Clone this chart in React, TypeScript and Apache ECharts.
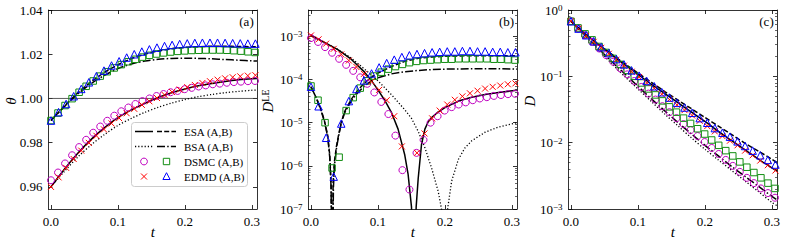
import React, { useEffect, useRef } from 'react';
import * as echarts from 'echarts';

// ---------- time grids ----------
const tEdmd = [0, 0.0113, 0.0226, 0.0339, 0.0452, 0.0565, 0.0678, 0.0791, 0.0904, 0.1017, 0.113, 0.1243, 0.1356, 0.1469, 0.1582, 0.1695, 0.1808, 0.1921, 0.2034, 0.2147, 0.226, 0.2373, 0.2486, 0.2599, 0.2712, 0.2825, 0.2938, 0.3051];
const tDsmc = [0, 0.0105, 0.021, 0.0315, 0.042, 0.0525, 0.063, 0.0735, 0.084, 0.0945, 0.105, 0.1155, 0.126, 0.1365, 0.147, 0.1575, 0.168, 0.1785, 0.189, 0.1995, 0.21, 0.2205, 0.231, 0.2415, 0.252, 0.2625, 0.273, 0.2835, 0.294, 0.3045];
const tLine = [0, 0.02, 0.04, 0.06, 0.08, 0.1, 0.12, 0.14, 0.16, 0.18, 0.2, 0.22, 0.24, 0.26, 0.28, 0.3, 0.3075];

// ---------- panel (a): theta ----------
const thetaEsaA = [0.96, 0.968, 0.9752, 0.9815, 0.9868, 0.9913, 0.9948, 0.9978, 1.0004, 1.0026, 1.0043, 1.0057, 1.0068, 1.0077, 1.0084, 1.0089, 1.009];
const thetaEsaB = [0.99, 0.9965, 1.0025, 1.0075, 1.0118, 1.0152, 1.018, 1.02, 1.0215, 1.0225, 1.0231, 1.0234, 1.0236, 1.0236, 1.0235, 1.0234, 1.0233];
const thetaBsaA = [0.96, 0.967, 0.9735, 0.979, 0.9837, 0.9878, 0.991, 0.9937, 0.996, 0.9979, 0.9995, 1.0008, 1.0018, 1.0026, 1.0032, 1.0037, 1.0038];
const thetaBsaB = [0.99, 0.9963, 1.002, 1.0067, 1.0105, 1.0135, 1.0156, 1.0169, 1.0177, 1.0181, 1.0182, 1.0181, 1.0179, 1.0176, 1.0173, 1.017, 1.0169];
const thetaDsmcA = [0.963, 0.9665, 0.9706, 0.9743, 0.978, 0.9813, 0.9845, 0.9873, 0.9899, 0.9922, 0.9942, 0.9959, 0.9975, 0.9988, 1.0, 1.0011, 1.002, 1.0028, 1.0034, 1.0042, 1.0048, 1.0054, 1.0059, 1.0064, 1.0067, 1.0071, 1.0074, 1.0076, 1.0078, 1.0079];
const thetaDsmcB = [0.99, 0.9934, 0.9968, 0.9999, 1.0028, 1.0055, 1.0079, 1.0101, 1.0121, 1.0138, 1.0153, 1.0166, 1.0177, 1.0187, 1.0195, 1.0201, 1.0206, 1.021, 1.0213, 1.0215, 1.0217, 1.0218, 1.0219, 1.0219, 1.0219, 1.0218, 1.0216, 1.0214, 1.0211, 1.0208];
const thetaEdmdA = [0.96, 0.9643, 0.9686, 0.9726, 0.9764, 0.9799, 0.9831, 0.986, 0.9887, 0.9911, 0.9933, 0.9953, 0.9971, 0.9987, 1.0002, 1.0016, 1.0029, 1.004, 1.0051, 1.0061, 1.007, 1.0078, 1.0085, 1.0091, 1.0096, 1.01, 1.0103, 1.0105];
const thetaEdmdB = [0.99, 0.9938, 0.9975, 1.001, 1.0043, 1.0073, 1.0101, 1.0126, 1.0149, 1.0168, 1.0185, 1.02, 1.0212, 1.0222, 1.023, 1.0237, 1.0242, 1.0246, 1.0249, 1.0251, 1.0252, 1.0252, 1.0252, 1.0251, 1.025, 1.0249, 1.0248, 1.0248];

// ---------- panel (b): log10 D^LE ----------
const tEsaA_b = [0, 0.02, 0.04, 0.06, 0.08, 0.09, 0.1, 0.11, 0.12, 0.13, 0.14, 0.145, 0.15, 0.1535, 0.157, 0.16, 0.165, 0.17, 0.175, 0.18, 0.19, 0.2, 0.22, 0.24, 0.26, 0.28, 0.3075];
const logDleEsaA = [-2.98, -3.14, -3.31, -3.53, -3.83, -4.02, -4.24, -4.48, -4.76, -5.15, -5.75, -6.2, -6.95, -9, -6.95, -6.3, -5.5, -5.15, -4.98, -4.88, -4.75, -4.65, -4.5, -4.41, -4.35, -4.3, -4.25];
const tBsaA_b = [0, 0.02, 0.04, 0.06, 0.08, 0.1, 0.12, 0.14, 0.15, 0.16, 0.17, 0.18, 0.19, 0.196, 0.1995, 0.203, 0.21, 0.22, 0.23, 0.24, 0.26, 0.28, 0.3075];
const logDleBsaA = [-2.98, -3.14, -3.3, -3.5, -3.76, -4.03, -4.35, -4.7, -4.9, -5.2, -5.58, -6.05, -6.6, -7.1, -9, -7.1, -6.35, -5.85, -5.58, -5.42, -5.22, -5.1, -5.0];
const tEsaB_b = [0, 0.005, 0.01, 0.015, 0.02, 0.025, 0.028, 0.03, 0.0315, 0.033, 0.035, 0.038, 0.041, 0.045, 0.05, 0.06, 0.07, 0.08, 0.09, 0.1, 0.12, 0.14, 0.16, 0.18, 0.2, 0.24, 0.28, 0.3075];
const logDleEsaB = [-4.17, -4.33, -4.5, -4.7, -4.95, -5.3, -5.75, -6.4, -9, -6.4, -5.9, -5.55, -5.3, -5.0, -4.75, -4.46, -4.25, -4.08, -3.95, -3.85, -3.7, -3.58, -3.51, -3.48, -3.46, -3.45, -3.45, -3.45];
const tBsaB_b = [0, 0.005, 0.01, 0.015, 0.02, 0.025, 0.028, 0.03, 0.0318, 0.0335, 0.035, 0.038, 0.041, 0.045, 0.05, 0.06, 0.07, 0.08, 0.09, 0.1, 0.12, 0.14, 0.16, 0.18, 0.2, 0.24, 0.28, 0.3075];
const logDleBsaB = [-4.17, -4.33, -4.51, -4.72, -4.97, -5.33, -5.8, -6.5, -9, -6.5, -6.0, -5.6, -5.33, -5.03, -4.78, -4.5, -4.3, -4.15, -4.03, -3.96, -3.87, -3.82, -3.79, -3.77, -3.76, -3.75, -3.75, -3.76];
const logDleDsmcA = [-3.04, -3.13, -3.25, -3.38, -3.52, -3.66, -3.8, -3.95, -4.1, -4.3, -4.52, -4.8, -5.3, -6.1, -6.55, -5.7, -5.4, -5.0, -4.85, -4.72, -4.64, -4.58, -4.53, -4.48, -4.44, -4.41, -4.38, -4.36, -4.34, -4.33];
const logDleDsmcB = [-4.15, -4.48, -5.0, -6.05, -5.8, -4.72, -4.42, -4.2, -4.03, -3.92, -3.83, -3.76, -3.7, -3.65, -3.61, -3.58, -3.56, -3.55, -3.54, -3.53, -3.53, -3.52, -3.52, -3.52, -3.52, -3.52, -3.53, -3.53, -3.54, -3.55];
const logDleEdmdA = [-2.98, -3.07, -3.17, -3.29, -3.42, -3.56, -3.71, -3.87, -4.05, -4.24, -4.48, -4.85, -5.55, -7.5, -5.7, -5.25, -4.9, -4.72, -4.58, -4.47, -4.39, -4.32, -4.26, -4.21, -4.17, -4.14, -4.11, -4.09];
const logDleEdmdB = [-4.17, -4.62, -5.35, -6.25, -5.02, -4.5, -4.22, -4.02, -3.86, -3.72, -3.62, -3.54, -3.48, -3.44, -3.41, -3.39, -3.37, -3.36, -3.35, -3.35, -3.34, -3.34, -3.35, -3.35, -3.36, -3.36, -3.37, -3.37];

// ---------- panel (c): log10 D ----------
const logDEsaA = [-0.17, -0.35, -0.51, -0.67, -0.82, -0.97, -1.12, -1.26, -1.4, -1.54, -1.68, -1.83, -1.97, -2.11, -2.25, -2.38, -2.43];
const logDEsaB = [-0.17, -0.35, -0.51, -0.66, -0.81, -0.95, -1.09, -1.23, -1.36, -1.49, -1.62, -1.75, -1.88, -2.01, -2.13, -2.25, -2.3];
const logDBsaA = [-0.17, -0.38, -0.59, -0.8, -1.0, -1.19, -1.38, -1.57, -1.75, -1.93, -2.1, -2.26, -2.42, -2.58, -2.74, -2.9, -2.95];
const logDBsaB = [-0.17, -0.37, -0.57, -0.77, -0.96, -1.15, -1.34, -1.52, -1.7, -1.87, -2.04, -2.2, -2.36, -2.51, -2.66, -2.81, -2.86];
const logDDsmcA = [-0.17, -0.28, -0.38, -0.48, -0.58, -0.68, -0.78, -0.88, -0.97, -1.07, -1.16, -1.26, -1.35, -1.45, -1.54, -1.63, -1.72, -1.81, -1.9, -1.99, -2.08, -2.17, -2.26, -2.35, -2.44, -2.53, -2.61, -2.69, -2.76, -2.83];
const logDDsmcB = [-0.17, -0.27, -0.36, -0.45, -0.55, -0.64, -0.73, -0.82, -0.91, -1.0, -1.1, -1.19, -1.28, -1.37, -1.46, -1.54, -1.63, -1.71, -1.79, -1.87, -1.96, -2.04, -2.12, -2.2, -2.29, -2.37, -2.45, -2.53, -2.61, -2.69];
const logDEdmdA = [-0.17, -0.28, -0.39, -0.48, -0.57, -0.66, -0.75, -0.84, -0.93, -1.01, -1.1, -1.18, -1.27, -1.35, -1.43, -1.51, -1.59, -1.67, -1.75, -1.83, -1.9, -1.97, -2.04, -2.12, -2.19, -2.27, -2.34, -2.42];
const logDEdmdB = [-0.17, -0.28, -0.38, -0.47, -0.56, -0.65, -0.74, -0.82, -0.91, -0.99, -1.07, -1.15, -1.24, -1.32, -1.4, -1.47, -1.55, -1.63, -1.7, -1.78, -1.85, -1.91, -1.98, -2.05, -2.12, -2.19, -2.26, -2.33];

// ---------- ticks & texts ----------
const xTicks = [0, 0.1, 0.2, 0.3];
const thetaTicks = [0.96, 0.98, 1.0, 1.02, 1.04];
const dleTicks = [-7, -6, -5, -4, -3];
const dTicks = [-3, -2, -1, 0];
const legendLabels = ['ESA (A,B)', 'BSA (A,B)', 'DSMC (A,B)', 'EDMD (A,B)'];
const panelLabels = ['(a)', '(b)', '(c)'];

// ---------- style constants ----------
const FONT = 'Liberation Serif, DejaVu Serif, serif';
const X_MIN = -0.0037;
const X_MAX = 0.3075;
const GRID_TOP = 10;
const GRID_H = 199;
const GRID_W = 208.5;
const LEFTS = [48.5, 308.5, 568.5];
const C_MAG = '#c000c0';
const C_GRN = '#118d11';
const C_RED = '#ff0000';
const C_BLU = '#0000ff';
const DASHED = [5, 2.2];
const DOTTED = [1.2, 2];
const DASHDOT = [8, 2.2, 1.5, 2.2];
const X_PATH = 'path://M0,0L10,10M10,0L0,10';

function minorLogTicks(lo: number, hi: number) {
  const out: number[] = [];
  for (let n = Math.floor(lo); n < hi; n++) {
    for (let k = 2; k <= 9; k++) {
      const v = n + Math.log10(k);
      if (v > lo && v < hi) out.push(v);
    }
  }
  return out;
}

const axisLineStyle = { color: '#000', width: 0.8 };

function buildXAxes(gi: number) {
  const base = {
    gridIndex: gi,
    type: 'value',
    min: X_MIN,
    max: X_MAX,
    splitLine: { show: false },
    axisLine: { show: true, onZero: false, lineStyle: axisLineStyle },
    axisTick: { show: true, inside: true, length: 4, customValues: xTicks, lineStyle: axisLineStyle },
  };
  return [
    {
      ...base,
      position: 'bottom',
      axisLabel: {
        show: true,
        customValues: xTicks,
        formatter: (v: number) => v.toFixed(1),
        margin: 6,
        color: '#000',
        fontFamily: FONT,
        fontSize: 13,
      },
    },
    { ...base, position: 'top', axisLabel: { show: false } },
  ];
}

const powRich = {
  b: { fontSize: 13, fontFamily: FONT, color: '#000', lineHeight: 13, padding: [4, 0, 0, 0], verticalAlign: 'bottom' },
  s: { fontSize: 9, fontFamily: FONT, color: '#000', lineHeight: 9, verticalAlign: 'top' },
};
const powFmt = (v: number) => {
  const n = Math.round(v);
  return `{b|10}{s|${n < 0 ? '\u2212' : ''}${Math.abs(n)}}`;
};

function buildYAxes(gi: number, min: number, max: number, ticks: number[], fmt: (v: number) => string, rich: any, minor: number[] | null) {
  const base = { gridIndex: gi, type: 'value', min, max, splitLine: { show: false } };
  const axes: any[] = [
    {
      ...base,
      position: 'left',
      axisLine: { show: true, onZero: false, lineStyle: axisLineStyle },
      axisTick: { show: true, inside: true, length: 4, customValues: ticks, lineStyle: axisLineStyle },
      axisLabel: { show: true, customValues: ticks, formatter: fmt, margin: 6, color: '#000', fontFamily: FONT, fontSize: 13, rich },
    },
    {
      ...base,
      position: 'right',
      axisLine: { show: true, onZero: false, lineStyle: axisLineStyle },
      axisTick: { show: true, inside: true, length: 4, customValues: ticks, lineStyle: axisLineStyle },
      axisLabel: { show: false },
    },
  ];
  if (minor) {
    for (const pos of ['left', 'right']) {
      axes.push({
        ...base,
        position: pos,
        axisLine: { show: false, onZero: false },
        axisTick: { show: true, inside: true, length: 2, customValues: minor, lineStyle: { color: '#000', width: 0.6 } },
        axisLabel: { show: false },
      });
    }
  }
  return axes;
}

const pairs = (ts: number[], vs: number[]) => ts.map((t, i) => [t, vs[i]]);

function lineS(xi: number, yi: number, ts: number[], vs: number[], type: any, width: number, smooth: number | boolean) {
  return {
    type: 'line', xAxisIndex: xi, yAxisIndex: yi, data: pairs(ts, vs),
    showSymbol: false, symbol: 'none', smooth, silent: true, clip: true, z: 2,
    lineStyle: { color: '#000', width, type },
  };
}

function scatterS(xi: number, yi: number, ts: number[], vs: number[], symbol: string, size: number, color: string) {
  return {
    type: 'scatter', xAxisIndex: xi, yAxisIndex: yi, data: pairs(ts, vs),
    symbol, symbolSize: size, silent: true, clip: true, z: 3,
    itemStyle: { color: 'transparent', borderColor: color, borderWidth: 1, opacity: 1 },
  };
}

function panelSeries(xi: number, yi: number, tl: any, lines: any, m: any) {
  return [
    lineS(xi, yi, tl.esaA, lines.esaA, 'solid', 1.5, lines.smooth),
    lineS(xi, yi, tl.esaB, lines.esaB, DASHED, 1.5, lines.smooth),
    lineS(xi, yi, tl.bsaA, lines.bsaA, DOTTED, 1.3, lines.smooth),
    lineS(xi, yi, tl.bsaB, lines.bsaB, DASHDOT, 1.5, lines.smooth),
    scatterS(xi, yi, tDsmc, m.dsmcA, 'circle', 7, C_MAG),
    scatterS(xi, yi, tDsmc, m.dsmcB, 'rect', 6.5, C_GRN),
    scatterS(xi, yi, tEdmd, m.edmdA, X_PATH, 6, C_RED),
    scatterS(xi, yi, tEdmd, m.edmdB, 'triangle', 7.5, C_BLU),
  ];
}

function buildOption() {
  const grids = LEFTS.map((l) => ({ left: l, top: GRID_TOP, width: GRID_W, height: GRID_H, containLabel: false, outerBoundsMode: 'none' }));
  const xAxis = [...buildXAxes(0), ...buildXAxes(1), ...buildXAxes(2)];
  const yA = buildYAxes(0, 0.95, 1.04, thetaTicks, (v: number) => v.toFixed(2), undefined, null);
  const yB = buildYAxes(1, -7, -2.39, dleTicks, powFmt, powRich, minorLogTicks(-7, -2.39));
  const yC = buildYAxes(2, -3, 0, dTicks, powFmt, powRich, minorLogTicks(-3, 0));
  const yAxis = [...yA, ...yB, ...yC];
  const yiA = 0;
  const yiB = yA.length;
  const yiC = yA.length + yB.length;

  const sameT = { esaA: tLine, esaB: tLine, bsaA: tLine, bsaB: tLine };
  const series: any[] = [
    {
      type: 'line', xAxisIndex: 0, yAxisIndex: yiA, data: [[X_MIN, 1.0], [X_MAX, 1.0]],
      showSymbol: false, symbol: 'none', silent: true, z: 1,
      lineStyle: { color: '#333', width: 0.8 },
    },
    ...panelSeries(0, yiA, sameT,
      { esaA: thetaEsaA, esaB: thetaEsaB, bsaA: thetaBsaA, bsaB: thetaBsaB, smooth: 0.3 },
      { dsmcA: thetaDsmcA, dsmcB: thetaDsmcB, edmdA: thetaEdmdA, edmdB: thetaEdmdB }),
    ...panelSeries(2, yiB, { esaA: tEsaA_b, esaB: tEsaB_b, bsaA: tBsaA_b, bsaB: tBsaB_b },
      { esaA: logDleEsaA, esaB: logDleEsaB, bsaA: logDleBsaA, bsaB: logDleBsaB, smooth: false },
      { dsmcA: logDleDsmcA, dsmcB: logDleDsmcB, edmdA: logDleEdmdA, edmdB: logDleEdmdB }),
    ...panelSeries(4, yiC, sameT,
      { esaA: logDEsaA, esaB: logDEsaB, bsaA: logDBsaA, bsaB: logDBsaB, smooth: 0.3 },
      { dsmcA: logDDsmcA, dsmcB: logDDsmcB, edmdA: logDEdmdA, edmdB: logDEdmdB }),
  ];

  const txt = (x: number, y: number, text: string, size: number, italic: boolean, rot = 0, align = 'center', rich?: any) => ({
    type: 'text', x, y, rotation: rot, z: 100, silent: true,
    style: {
      text, fontSize: size, fontFamily: FONT, fontStyle: italic ? 'italic' : 'normal', fill: '#000',
      align, verticalAlign: 'middle', textAlign: align, textVerticalAlign: 'middle', rich,
    },
  });
  const graphic: any[] = [];
  LEFTS.forEach((l, i) => {
    graphic.push(txt(l + GRID_W / 2, 232, 't', 15, true));
    graphic.push(txt(l + GRID_W - 10.5, 21.5, panelLabels[i], 13, false));
  });
  graphic.push(txt(11, 101, '\u03b8', 15, true, Math.PI / 2));
  graphic.push(txt(268, 101, '{i|D}{s|LE}', 15, false, Math.PI / 2, 'center', {
    i: { fontSize: 15, fontFamily: FONT, fontStyle: 'italic', fill: '#000', color: '#000', lineHeight: 15, padding: [4, 0, 0, 0], verticalAlign: 'bottom' },
    s: { fontSize: 10, fontFamily: FONT, fill: '#000', color: '#000', lineHeight: 10, verticalAlign: 'top' },
  }));
  graphic.push(txt(530, 101, 'D', 15, true, Math.PI / 2));

  const bx = 131.5, by = 122.5, bw = 116, bh = 64;
  graphic.push({ type: 'rect', z: 90, silent: true, shape: { x: bx, y: by, width: bw, height: bh, r: 3 }, style: { fill: 'rgba(255,255,255,0.85)', stroke: '#cccccc', lineWidth: 1 } });
  const rows = [131.5, 146.5, 161.5, 176.5];
  const hx1 = 144, hx2 = 166.5;
  const seg = (x1: number, x2: number, y: number, dash: any, w: number) => ({ type: 'line', z: 95, silent: true, shape: { x1, y1: y, x2, y2: y }, style: { stroke: '#000', lineWidth: w, lineDash: dash } });
  graphic.push(seg(135, 153, rows[0], null, 1.5));
  graphic.push(seg(157, 176, rows[0], DASHED, 1.5));
  graphic.push(seg(135, 153, rows[1], DOTTED, 1.3));
  graphic.push(seg(157, 176, rows[1], DASHDOT, 1.5));
  graphic.push({ type: 'circle', z: 95, silent: true, shape: { cx: hx1, cy: rows[2], r: 3.4 }, style: { fill: 'none', stroke: C_MAG, lineWidth: 1 } });
  graphic.push({ type: 'rect', z: 95, silent: true, shape: { x: hx2 - 3.2, y: rows[2] - 3.2, width: 6.4, height: 6.4 }, style: { fill: 'none', stroke: C_GRN, lineWidth: 1 } });
  graphic.push({ type: 'line', z: 95, silent: true, shape: { x1: hx1 - 3, y1: rows[3] - 3, x2: hx1 + 3, y2: rows[3] + 3 }, style: { stroke: C_RED, lineWidth: 1 } });
  graphic.push({ type: 'line', z: 95, silent: true, shape: { x1: hx1 - 3, y1: rows[3] + 3, x2: hx1 + 3, y2: rows[3] - 3 }, style: { stroke: C_RED, lineWidth: 1 } });
  graphic.push({ type: 'polygon', z: 95, silent: true, shape: { points: [[hx2, rows[3] - 3.8], [hx2 + 3.6, rows[3] + 3], [hx2 - 3.6, rows[3] + 3]] }, style: { fill: 'none', stroke: C_BLU, lineWidth: 1 } });
  legendLabels.forEach((lab, i) => graphic.push(txt(184, rows[i], lab, 11, false, 0, 'left')));

  return { animation: false, backgroundColor: '#ffffff', grid: grids, xAxis, yAxis, series, graphic };
}

export default function App() {
  const ref = useRef<HTMLDivElement>(null);
  useEffect(() => {
    if (!ref.current) return;
    const chart = echarts.init(ref.current, undefined, { renderer: 'svg', width: 789, height: 245 });
    chart.setOption(buildOption() as any);
    return () => chart.dispose();
  }, []);
  return <div ref={ref} style={{ position: 'absolute', left: 0, top: 0, width: 789, height: 245, background: '#fff' }} />;
}
